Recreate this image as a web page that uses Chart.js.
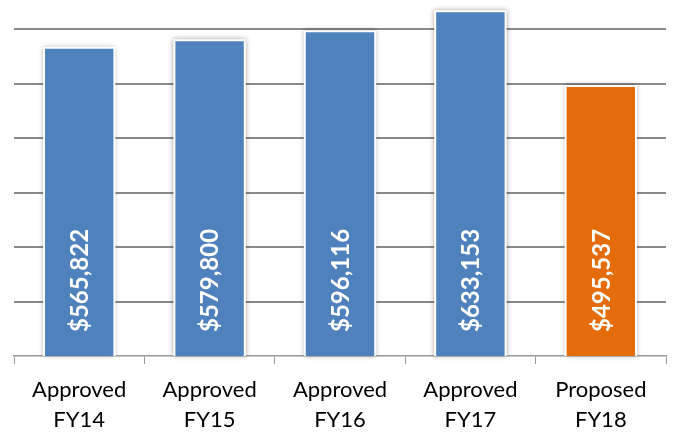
<!DOCTYPE html>
<html>
<head>
<meta charset="utf-8">
<script src="https://cdn.jsdelivr.net/npm/chart.js@4.4.0/dist/chart.umd.min.js"></script>
<style>
  html, body { margin: 0; padding: 0; background: #fff; }
  #wrap { width: 676px; height: 435px; }
</style>
</head>
<body>
<div id="wrap"><canvas id="myChart" width="676" height="435"></canvas></div>
<script>
const labels = [['Approved', 'FY14'], ['Approved', 'FY15'], ['Approved', 'FY16'], ['Approved', 'FY17'], ['Proposed', 'FY18']];
const amounts = [565822, 579800, 596116, 633153, 495537];
const barColors = ['#4f81bd', '#4f81bd', '#4f81bd', '#4f81bd', '#e46c0a'];
const gridValues = [100000, 200000, 300000, 400000, 500000, 600000];

// soft shadow behind each bar
const barShadow = {
    id: 'barShadow',
    beforeDatasetsDraw(chart) {
        const ctx = chart.ctx;
        chart.getDatasetMeta(0).data.forEach(bar => {
            const w = bar.width;
            ctx.save();
            ctx.shadowColor = 'rgba(0,0,0,0.35)';
            ctx.shadowBlur = 5;
            ctx.fillStyle = '#ffffff';
            ctx.fillRect(bar.x - w / 2 - 1, bar.y - 1, w + 2, bar.base - bar.y + 1);
            ctx.restore();
        });
    }
};

// vertical dollar labels sitting near the bottom of each bar
const valueLabels = {
    id: 'valueLabels',
    afterDatasetsDraw(chart) {
        const ctx = chart.ctx;
        const fmt = new Intl.NumberFormat('en-US');
        chart.getDatasetMeta(0).data.forEach((bar, i) => {
            ctx.save();
            ctx.translate(bar.x + 1, bar.base - 24);
            ctx.rotate(-Math.PI / 2);
            ctx.font = 'bold 24px Lato';
            ctx.fillStyle = '#ffffff';
            ctx.textAlign = 'left';
            ctx.textBaseline = 'middle';
            ctx.fillText('$' + fmt.format(amounts[i]), 0, 0);
            ctx.restore();
        });
    }
};

new Chart(document.getElementById('myChart'), {
    type: 'bar',
    data: {
        labels: labels,
        datasets: [{
            data: amounts,
            backgroundColor: barColors,
            borderColor: '#ffffff',
            borderWidth: 1,
            borderSkipped: 'bottom',
            barPercentage: 0.9,
            categoryPercentage: 0.6
        }]
    },
    options: {
        responsive: false,
        animation: false,
        layout: { padding: { left: 14, right: 10, top: 2, bottom: 0 } },
        plugins: {
            legend: { display: false },
            tooltip: { enabled: false }
        },
        scales: {
            x: {
                afterFit: scale => { scale.height = 79; },
                grid: {
                    drawOnChartArea: false,
                    drawTicks: true,
                    tickLength: 8,
                    color: '#9a9a9a',
                    lineWidth: 1
                },
                border: { color: '#9a9a9a', width: 1.5 },
                ticks: {
                    color: '#000000',
                    padding: 11,
                    font: { family: 'Lato', size: 22, lineHeight: 1.36 }
                }
            },
            y: {
                min: 0,
                max: 650000,
                afterBuildTicks: scale => {
                    scale.ticks = gridValues.map(v => ({ value: v }));
                },
                ticks: { display: false },
                border: { display: false },
                grid: {
                    drawTicks: false,
                    lineWidth: 2,
                    color: '#8a8a8a'
                }
            }
        }
    },
    plugins: [barShadow, valueLabels]
});
</script>
</body>
</html>
